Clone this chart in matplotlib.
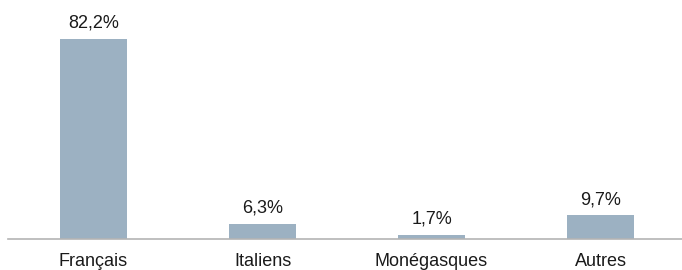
import matplotlib.pyplot as plt

categories = ["Français", "Italiens", "Monégasques", "Autres"]
shares = [82.2, 6.3, 1.7, 9.7]
value_labels = ["82,2%", "6,3%", "1,7%", "9,7%"]

BAR_COLOR = "#9cb1c2"
AXIS_COLOR = "#b4b4b4"

plt.rcParams.update(
    {
        "font.family": ["Liberation Sans", "DejaVu Sans"],
        "font.size": 13,
    }
)

fig = plt.figure(figsize=(6.82, 2.70), dpi=100)
ax = fig.add_axes([8 / 682, 31 / 270, 674 / 682, 239 / 270])

x = range(len(categories))
bars = ax.bar(x, shares, width=0.40, color=BAR_COLOR, zorder=2)

for bar, label in zip(bars, value_labels):
    ax.annotate(
        label,
        (bar.get_x() + bar.get_width() / 2, bar.get_height()),
        xytext=(0, 5),
        textcoords="offset points",
        ha="center",
        va="bottom",
        fontsize=13,
        color="#1a1a1a",
    )

ax.set_xlim(-0.506, 3.482)
ax.set_ylim(0, 98.2)
ax.set_xticks(list(x))
ax.set_xticklabels(categories)
ax.tick_params(axis="x", length=0, pad=10, labelsize=13, colors="#1a1a1a")
ax.set_yticks([])

for side in ("top", "right", "left"):
    ax.spines[side].set_visible(False)
ax.spines["bottom"].set_color(AXIS_COLOR)
ax.spines["bottom"].set_linewidth(1.2)

fig.savefig("out.png", dpi=100)
